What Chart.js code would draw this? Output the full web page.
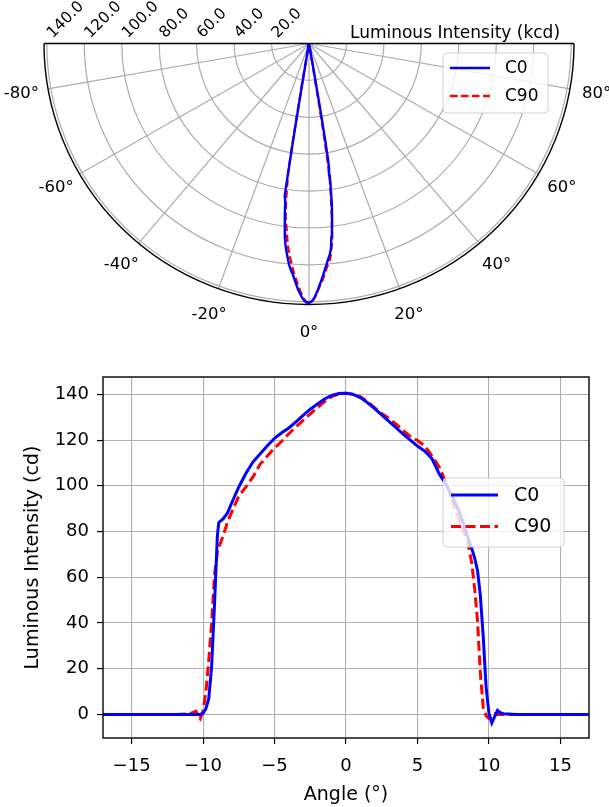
<!DOCTYPE html>
<html><head><meta charset="utf-8">
<script src="https://cdn.jsdelivr.net/npm/chart.js@4.4.1/dist/chart.umd.min.js"></script>
<style>
html,body{margin:0;padding:0;background:#fff;width:609px;height:807px;overflow:hidden}
#c1{position:absolute;left:0;top:0}
#c2{position:absolute;left:0;top:350px}
</style></head><body>
<canvas id="c1" width="609" height="350"></canvas>
<canvas id="c2" width="609" height="457"></canvas>
<script>
// ---- data (angle in degrees, intensity) ----
const angles = [-17,-16,-15,-14,-13,-12,-11,-10.8,-10.5,-10.2,-10,-9.8,-9.6,-9.4,-9.2,-9,-8.9,-8.6,-8.3,-8,
  -7.5,-7,-6.5,-6,-5.5,-5,-4.5,-4,-3.5,-3,-2.5,-2,-1.5,-1,-0.5,0,
  0.5,1,1.5,2,2.5,3,3.5,4,4.5,5,5.5,6,6.5,7,7.5,8,8.5,
  8.8,9,9.2,9.4,9.6,9.8,10,10.2,10.4,10.6,10.8,11,12,13,14,15,16,17];
const c0 = [0,0,0,0,0,0,0,0,0,0,0.5,2.5,7,21,48,78,84,85.5,88,92.5,
  99.5,105.5,110.5,114,117.5,120.8,123.2,125.3,128,130.8,133.5,135.8,138,139.6,140.4,140.5,
  140,138.6,136.4,133.8,131,128.2,125.4,122.6,120,117.4,115.2,112,105.5,100.5,94.5,87.5,78,
  72.5,68.5,63,52,34,12,0.5,-3.7,-1,1.8,0.8,0.3,0,0,0,0,0,0];
const c90 = [0,0,0,0,0,0,0.3,0.6,1.4,-1.8,1.5,10,24,40,61,71,73,78,84,88.5,
  95.5,99.5,104,109.5,113,116.5,119.5,122.8,125.8,128.6,131.5,134.2,136.8,139,140.2,140.5,
  140.1,139,136.8,134.2,131.6,129.5,127,124.2,121.6,119.8,117.5,113.2,108.5,101.5,92.5,84,76,
  66,55,41,18,3,-0.5,-1.8,-0.3,0.4,0,0,0,0,0,0,0,0,0];
const seriesNames = ['C0','C90'];
const xTicks = [-15,-10,-5,0,5,10,15];
const yTicks = [0,20,40,60,80,100,120,140];
const rTicks = [20,40,60,80,100,120,140];
const thetaTicks = [-80,-60,-40,-20,0,20,40,60,80];

const R_MAX = 141.5;
const FONT = '"DejaVu Sans"';
const BLUE = '#0000ff', RED = '#ff0000';

function polarPoints(vals){
  return angles.map((a,i)=>{
    const r = Math.max(0, vals[i]);
    const t = a*Math.PI/180;
    return {x: r*Math.sin(t), y: -r*Math.cos(t)};
  });
}

function drawLegend(ctx, box, lines, textX, fontSize, lw, dash){
  ctx.save();
  ctx.beginPath();
  ctx.roundRect(box.x, box.y, box.w, box.h, 4);
  ctx.fillStyle = 'rgba(255,255,255,0.8)';
  ctx.fill();
  ctx.strokeStyle = 'rgba(204,204,204,0.9)';
  ctx.lineWidth = 1;
  ctx.stroke();
  const colors = [BLUE, RED];
  lines.forEach((ly,i)=>{
    ctx.beginPath();
    ctx.setLineDash(i===1 ? dash : []);
    ctx.strokeStyle = colors[i]; ctx.lineWidth = lw;
    ctx.moveTo(lines.x0, ly); ctx.lineTo(lines.x1, ly); ctx.stroke();
    ctx.setLineDash([]);
    ctx.fillStyle = '#000';
    ctx.font = fontSize + 'px ' + FONT;
    ctx.textAlign = 'left'; ctx.textBaseline = 'middle';
    ctx.fillText(seriesNames[i], textX, ly+1);
  });
  ctx.restore();
}

// ---- polar chart ----
const polarPlugin = {
  id: 'polarPlugin',
  beforeDatasetsDraw(chart){
    const {ctx, scales:{x, y}} = chart;
    const cx = x.getPixelForValue(0), cy = y.getPixelForValue(0);
    const rx = v => x.getPixelForValue(v) - cx;
    const ry = v => y.getPixelForValue(-v) - cy;
    ctx.save();
    ctx.strokeStyle = '#acacac'; ctx.lineWidth = 1.2;
    rTicks.forEach(r=>{
      ctx.beginPath(); ctx.ellipse(cx, cy, rx(r), ry(r), 0, 0, Math.PI); ctx.stroke();
    });
    thetaTicks.forEach(t=>{
      const a = t*Math.PI/180;
      ctx.beginPath(); ctx.moveTo(cx, cy);
      ctx.lineTo(cx + Math.sin(a)*rx(R_MAX), cy + Math.cos(a)*ry(R_MAX));
      ctx.stroke();
    });
    ctx.restore();
  },
  afterDatasetsDraw(chart){
    const {ctx, scales:{x, y}} = chart;
    const cx = x.getPixelForValue(0), cy = y.getPixelForValue(0);
    const RX = x.getPixelForValue(R_MAX) - cx, RY = y.getPixelForValue(-R_MAX) - cy;
    ctx.save();
    ctx.strokeStyle = '#000'; ctx.lineWidth = 1.4;
    ctx.beginPath(); ctx.ellipse(cx, cy, RX, RY, 0, 0, Math.PI); ctx.stroke();
    ctx.beginPath(); ctx.moveTo(cx-RX, cy); ctx.lineTo(cx+RX, cy); ctx.stroke();
    ctx.fillStyle = '#000';
    ctx.font = '16.5px ' + FONT;
    ctx.textAlign = 'center'; ctx.textBaseline = 'middle';
    thetaTicks.forEach(t=>{
      const a = t*Math.PI/180;
      ctx.fillText(t + '°', cx + Math.sin(a)*(RX+27), cy + Math.cos(a)*(RY+28));
    });
    rTicks.forEach(r=>{
      const px = x.getPixelForValue(-r);
      ctx.save();
      ctx.translate(px+6, cy-5);
      ctx.rotate(-Math.PI/4);
      ctx.textAlign = 'left'; ctx.textBaseline = 'alphabetic';
      ctx.font = '15.5px ' + FONT;
      ctx.fillText(r.toFixed(1), 0, 0);
      ctx.restore();
    });
    ctx.font = '17px ' + FONT;
    ctx.textAlign = 'center'; ctx.textBaseline = 'middle';
    ctx.fillText('Luminous Intensity (kcd)', 455, cy-10);
    ctx.restore();
    const lines = [68, 96]; lines.x0 = 450; lines.x1 = 490;
    drawLegend(ctx, {x:443, y:53, w:105, h:60}, lines, 505, 17, 2.4, [7.5,3.5]);
  }
};

new Chart(document.getElementById('c1'), {
  type: 'scatter',
  data: { datasets: [
    { label: seriesNames[0], data: polarPoints(c0), showLine: true, borderColor: BLUE, borderWidth: 2.4, pointRadius: 0, tension: 0, fill: false },
    { label: seriesNames[1], data: polarPoints(c90), showLine: true, borderColor: RED, borderWidth: 2.4, borderDash: [7.5,3.5], pointRadius: 0, tension: 0, fill: false }
  ]},
  options: {
    responsive: false, animation: false, devicePixelRatio: 1,
    layout: { padding: { left: 44, right: 35, top: 43.5, bottom: 45.5 } },
    plugins: { legend: { display: false }, tooltip: { enabled: false } },
    scales: {
      x: { type: 'linear', min: -R_MAX, max: R_MAX, display: false },
      y: { type: 'linear', min: -R_MAX, max: 0, display: false }
    }
  },
  plugins: [polarPlugin]
});

// ---- cartesian chart ----
const framePlugin = {
  id: 'framePlugin',
  afterDatasetsDraw(chart){
    const {ctx, chartArea:a} = chart;
    ctx.save();
    ctx.strokeStyle = '#000'; ctx.lineWidth = 1.4;
    ctx.strokeRect(a.left, a.top, a.right-a.left, a.bottom-a.top);
    ctx.restore();
    const lines = [145, 176.5]; lines.x0 = 451; lines.x1 = 498;
    drawLegend(ctx, {x:443, y:128, w:121, h:69}, lines, 514, 19, 3, [10,4.5]);
  }
};
const fmt = v => v < 0 ? '\u2212' + Math.abs(v) : String(v);

new Chart(document.getElementById('c2'), {
  type: 'scatter',
  data: { datasets: [
    { label: seriesNames[0], data: angles.map((a,i)=>({x:a, y:c0[i]})), showLine: true, borderColor: BLUE, borderWidth: 3, pointRadius: 0, tension: 0, fill: false },
    { label: seriesNames[1], data: angles.map((a,i)=>({x:a, y:c90[i]})), showLine: true, borderColor: RED, borderWidth: 3, borderDash: [10,4.5], pointRadius: 0, tension: 0, fill: false }
  ]},
  options: {
    responsive: false, animation: false, devicePixelRatio: 1,
    layout: { padding: { left: 0, right: 20, top: 27, bottom: 0 } },
    plugins: { legend: { display: false }, tooltip: { enabled: false } },
    scales: {
      x: {
        type: 'linear', min: -17, max: 17,
        afterBuildTicks: s => { s.ticks = xTicks.map(v => ({value: v})); },
        afterFit: s => { s.height = 69; },
        grid: { color: '#b0b0b0', lineWidth: 1.1, tickLength: 6, tickColor: '#000', tickWidth: 1.2 },
        border: { display: false },
        ticks: { font: { family: 'DejaVu Sans', size: 18 }, color: '#000', padding: 12, maxRotation: 0, callback: v => fmt(v) },
        title: { display: true, text: 'Angle (°)', font: { family: 'DejaVu Sans', size: 19 }, color: '#000', padding: { top: 0, bottom: 1 } }
      },
      y: {
        type: 'linear', min: -10.3, max: 147.6,
        afterBuildTicks: s => { s.ticks = yTicks.map(v => ({value: v})); },
        afterFit: s => { s.width = 103; },
        grid: { color: '#b0b0b0', lineWidth: 1.1, tickLength: 6, tickColor: '#000', tickWidth: 1.2 },
        border: { display: false },
        ticks: { font: { family: 'DejaVu Sans', size: 18 }, color: '#000', padding: 8, callback: v => fmt(v) },
        title: { display: true, text: 'Luminous Intensity (cd)', font: { family: 'DejaVu Sans', size: 19 }, color: '#000', padding: { top: 22, bottom: 0 } }
      }
    }
  },
  plugins: [framePlugin]
});
</script>
</body></html>
